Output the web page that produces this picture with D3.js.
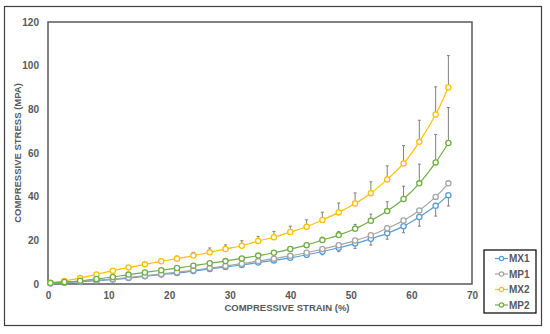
<!DOCTYPE html>
<html>
<head>
<meta charset="utf-8">
<script src="https://cdn.jsdelivr.net/npm/d3@7"></script>
<style>
  body { margin: 0; background: #fff; }
  text { font-family: "Liberation Sans", Arial, sans-serif; font-weight: bold; fill: #595959; }
</style>
</head>
<body>
<div id="chart"></div>
<script>
// strain values (%) shared by all series
const strain = [0.4, 2.7, 5.3, 8.0, 10.7, 13.3, 16.0, 18.7, 21.3, 24.0, 26.7, 29.3, 32.0,
  34.7, 37.3, 40.0, 42.7, 45.3, 48.0, 50.7, 53.3, 56.0, 58.7, 61.3, 64.0, 66.1];

// stress (MPa) per sample
const mx1 = [0.3, 0.6, 1.1, 1.5, 2.1, 2.7, 3.5, 4.3, 5.0, 5.9, 6.9, 7.8, 8.7,
  9.8, 10.8, 12.0, 13.4, 14.9, 16.6, 18.5, 20.7, 23.2, 26.5, 30.7, 35.8, 40.7];
const mp1 = [0.3, 0.7, 1.2, 1.7, 2.3, 3.0, 3.8, 4.6, 5.4, 6.3, 7.3, 8.3, 9.3,
  10.5, 11.6, 12.9, 14.3, 16.0, 17.8, 19.9, 22.3, 25.5, 29.1, 33.7, 39.9, 46.1];
const mx2 = [0.6, 1.4, 2.7, 4.4, 6.1, 7.6, 9.0, 10.4, 11.6, 13.0, 14.5, 16.0, 17.5,
  19.7, 21.4, 23.8, 26.2, 29.3, 32.8, 36.9, 41.6, 47.9, 55.2, 65.1, 77.6, 90.0];
const mp2 = [0.5, 0.9, 1.5, 2.3, 3.2, 4.3, 5.3, 6.3, 7.3, 8.4, 9.5, 10.5, 11.7,
  13.0, 14.3, 16.0, 17.8, 20.1, 22.4, 25.3, 29.0, 33.4, 38.9, 46.1, 55.7, 64.6];

// error bar lengths (MX1 drawn downward, MX2/MP2 upward)
const mx1Err = [0, 0.1, 0.1, 0.2, 0.2, 0.3, 0.3, 0.4, 0.4, 0.5, 0.5, 0.6, 0.7,
  0.8, 0.9, 1.0, 1.2, 1.5, 1.8, 2.2, 2.9, 2.7, 3.0, 4.2, 4.7, 5.0];
const mx2Err = [0.1, 0.2, 0.3, 0.4, 0.5, 0.6, 0.7, 1.0, 1.2, 1.5, 2.0, 1.9, 2.3,
  2.1, 2.7, 2.7, 3.2, 3.6, 4.3, 4.8, 5.2, 6.2, 8.2, 9.9, 12.7, 14.6];
const mp2Err = [0, 0, 0, 0.2, 0.3, 0.3, 0.4, 0.5, 0.5, 0.6, 0.6, 0.7, 0.8,
  0.9, 1.0, 1.1, 1.2, 1.3, 1.6, 2.0, 3.0, 4.3, 5.9, 8.8, 12.8, 16.2];

const xTicks = [0, 10, 20, 30, 40, 50, 60, 70];
const yTicks = [0, 20, 40, 60, 80, 100, 120];

const series = [
  { name: "MX1", values: mx1, err: mx1Err, dir: -1, color: "#5b9bd5" },
  { name: "MP1", values: mp1, err: null, dir: 1, color: "#a5a5a5" },
  { name: "MX2", values: mx2, err: mx2Err, dir: 1, color: "#ffc000" },
  { name: "MP2", values: mp2, err: mp2Err, dir: 1, color: "#70ad47" }
];

const width = 550;
const height = 334;
const plot = { left: 48, right: 472, top: 22, bottom: 284 };

const xScale = d3.scaleLinear().domain([0, 70]).range([plot.left, plot.right]);
const yScale = d3.scaleLinear().domain([0, 120]).range([plot.bottom, plot.top]);

const svg = d3.select("#chart").append("svg")
  .attr("width", width)
  .attr("height", height);

// outer frame
svg.append("rect")
  .attr("x", 4.5).attr("y", 6.5)
  .attr("width", 537).attr("height", 319)
  .attr("fill", "none")
  .attr("stroke", "#404040")
  .attr("stroke-width", 1.2);

// plot area border
svg.append("rect")
  .attr("x", plot.left).attr("y", plot.top)
  .attr("width", plot.right - plot.left).attr("height", plot.bottom - plot.top)
  .attr("fill", "none")
  .attr("stroke", "#595959")
  .attr("stroke-width", 1.5);

// axes, labels only
const xAxis = svg.append("g")
  .attr("transform", `translate(0,${plot.bottom})`)
  .call(d3.axisBottom(xScale).tickValues(xTicks).tickSize(0).tickPadding(8));
const yAxis = svg.append("g")
  .attr("transform", `translate(${plot.left},0)`)
  .call(d3.axisLeft(yScale).tickValues(yTicks).tickSize(0).tickPadding(9));
[xAxis, yAxis].forEach(g => {
  g.select(".domain").remove();
  g.selectAll("text")
    .attr("font-family", "Liberation Sans, Arial, sans-serif")
    .attr("font-size", 10)
    .attr("font-weight", "bold")
    .attr("fill", "#595959");
});

// axis titles
svg.append("text")
  .attr("x", 287)
  .attr("y", 311)
  .attr("text-anchor", "middle")
  .attr("font-size", 9.5)
  .text("COMPRESSIVE STRAIN (%)");

svg.append("text")
  .attr("transform", `translate(21,${(plot.top + plot.bottom) / 2}) rotate(-90)`)
  .attr("text-anchor", "middle")
  .attr("font-size", 9.5)
  .text("COMPRESSIVE STRESS (MPA)");

const line = d3.line()
  .x((d, i) => xScale(strain[i]))
  .y(d => yScale(d))
  .curve(d3.curveCatmullRom.alpha(0.5));

// error bars first so markers sit on top
series.filter(s => s.err).forEach(s => {
  const g = svg.append("g").attr("stroke", "#7f7f7f").attr("stroke-width", 1);
  const bars = s.values.map((v, i) => ({ x: strain[i], y: v, e: s.err[i] })).filter(d => d.e > 0);
  g.selectAll("line.bar")
    .data(bars)
    .join("line")
    .attr("x1", d => xScale(d.x)).attr("x2", d => xScale(d.x))
    .attr("y1", d => yScale(d.y)).attr("y2", d => yScale(d.y + s.dir * d.e));
  g.selectAll("line.cap")
    .data(bars)
    .join("line")
    .attr("x1", d => xScale(d.x) - 1.5).attr("x2", d => xScale(d.x) + 1.5)
    .attr("y1", d => yScale(d.y + s.dir * d.e)).attr("y2", d => yScale(d.y + s.dir * d.e));
});

series.forEach(s => {
  svg.append("path")
    .datum(s.values)
    .attr("d", line)
    .attr("fill", "none")
    .attr("stroke", s.color)
    .attr("stroke-width", 1.2);

  svg.append("g").selectAll("circle")
    .data(s.values)
    .join("circle")
    .attr("cx", (d, i) => xScale(strain[i]))
    .attr("cy", d => yScale(d))
    .attr("r", 2.6)
    .attr("fill", "#fff")
    .attr("stroke", s.color)
    .attr("stroke-width", 1.3);
});

// legend
const legend = svg.append("g").attr("transform", "translate(484,250)");
legend.append("rect")
  .attr("width", 52).attr("height", 63)
  .attr("fill", "#fff")
  .attr("stroke", "#000")
  .attr("stroke-width", 1.2);
const item = legend.selectAll("g.item")
  .data(series)
  .join("g")
  .attr("class", "item")
  .attr("transform", (d, i) => `translate(0,${8.5 + i * 15.5})`);
item.append("line")
  .attr("x1", 11).attr("x2", 24)
  .attr("stroke", d => d.color).attr("stroke-width", 1.2);
item.append("circle")
  .attr("cx", 17.5).attr("r", 2.2)
  .attr("fill", "#fff").attr("stroke", d => d.color).attr("stroke-width", 1.2);
item.append("text")
  .attr("x", 25).attr("dy", "0.35em")
  .attr("font-size", 10)
  .text(d => d.name);
</script>
</body>
</html>
